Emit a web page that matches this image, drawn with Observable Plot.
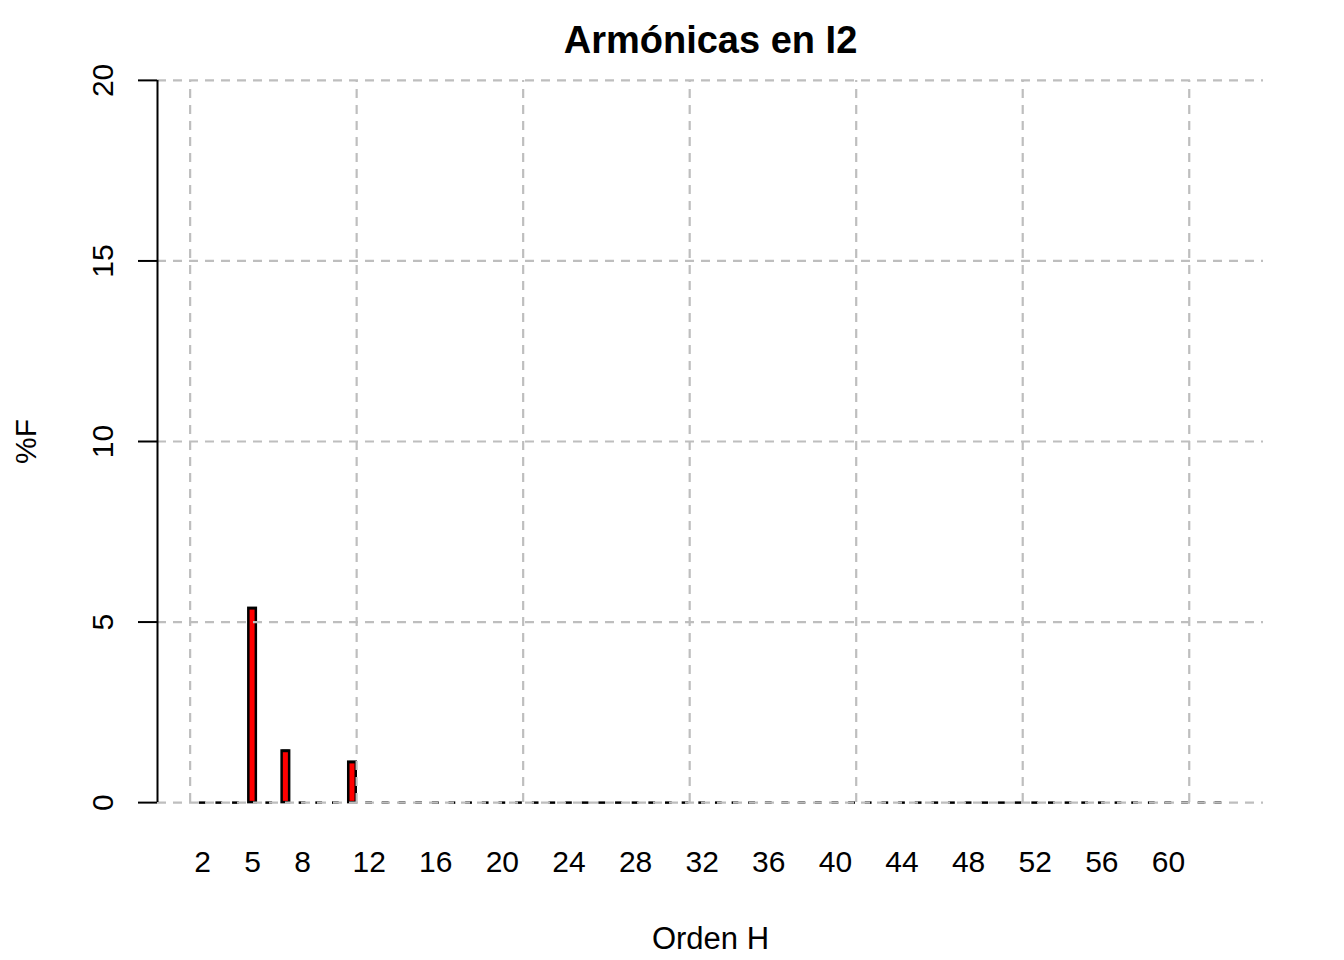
<!DOCTYPE html>
<html><head><meta charset="utf-8">
<script src="https://cdn.jsdelivr.net/npm/d3@7"></script>
<script src="https://cdn.jsdelivr.net/npm/@observablehq/plot@0.6"></script>
<style>body{margin:0;background:#fff} svg{display:block}</style>
</head><body><div id="chart"></div>
<script>
const harmonics = [2,3,4,5,6,7,8,9,10,11,12,13,14,15,16,17,18,19,20,21,22,23,24,25,26,27,28,29,30,31,32,
  33,34,35,36,37,38,39,40,41,42,43,44,45,46,47,48,49,50,51,52,53,54,55,56,57,58,59,60,61,62,63];
const values = [0,0,0,5.38,0,1.43,0,0,0,1.12,0,0,0,0,0,0,0,0,0,0,0,0,0,0,0,0,0,0,0,0,0,
  0,0,0,0,0,0,0,0,0,0,0,0,0,0,0,0,0,0,0,0,0,0,0,0,0,0,0,0,0,0,0];
const xTickLabels = [2,5,8,12,16,20,24,28,32,36,40,44,48,52,56,60];
const yTicks = [0,5,10,15,20];
const yLimits = [0,20];
const title = "Armónicas en I2";
const xLabel = "Orden H";
const yLabel = "%F";

// R barplot geometry: width 0.5, space 1
const barWidth = 0.5, space = 1;
const data = harmonics.map((h, i) => {
  const left = space * barWidth + i * barWidth * (1 + space);
  return {h, v: values[i], left, right: left + barWidth, mid: left + barWidth / 2};
});
const xmin = data[0].left, xmax = data[data.length - 1].right;
const xpad = 0.04 * (xmax - xmin);
const xDomain = [xmin - xpad, xmax + xpad];
const ypad = 0.04 * (yLimits[1] - yLimits[0]);
const yDomain = [yLimits[0] - ypad, yLimits[1] + ypad];
const gridX = d3.ticks(xDomain[0], xDomain[1], 6);
const tickData = data.filter(d => xTickLabels.includes(d.h));

const grid = {stroke: "#bebebe", strokeWidth: 2.2, strokeDasharray: "9,7"};

const chart = Plot.plot({
  width: 1344,
  height: 960,
  marginLeft: 157,
  marginRight: 81,
  marginTop: 51,
  marginBottom: 129,
  style: {fontFamily: "'Liberation Sans', Arial, sans-serif", fontSize: "30px", background: "#fff", color: "#000", overflow: "visible"},
  x: {type: "linear", domain: xDomain, axis: null},
  y: {domain: yDomain},
  marks: [
    Plot.rectY(data.filter(d => d.v > 0), {x1: "left", x2: "right", y1: 0, y2: "v", fill: "red", stroke: "black", strokeWidth: 2.5, insetLeft: 0.4, insetRight: 0.4}),
    Plot.ruleY(data, {y: "v", x1: "left", x2: "right", stroke: "black", strokeWidth: 2.5, insetLeft: 0.8, insetRight: 0.8}),
    Plot.ruleY(yTicks, {y: d => d, ...grid}),
    Plot.ruleX(gridX, {x: d => d, y1: yLimits[0], y2: yLimits[1], ...grid}),
    Plot.ruleX([xDomain[0]], {x: d => d, y1: yTicks[0], y2: yTicks[yTicks.length - 1], stroke: "black", strokeWidth: 2}),
    Plot.axisY({ticks: yTicks, tickSize: 19, tickFormat: () => "", strokeWidth: 2, label: null}),
    Plot.text(yTicks, {y: d => d, text: d => String(d), frameAnchor: "left", rotate: -90, textAnchor: "middle", lineAnchor: "bottom", dx: -45, fontSize: 30}),
    Plot.text([yLabel], {text: d => d, frameAnchor: "left", rotate: -90, textAnchor: "middle", lineAnchor: "bottom", dx: -122, fontSize: 30}),
    Plot.text(tickData, {x: "mid", text: d => String(d.h), frameAnchor: "bottom", lineAnchor: "bottom", dy: 40, fontSize: 30}),
    Plot.text([xLabel], {text: d => d, frameAnchor: "bottom", lineAnchor: "bottom", dy: 117, fontSize: 31}),
    Plot.text([title], {text: d => d, frameAnchor: "top", lineAnchor: "bottom", dy: 1, fontSize: 38, fontWeight: "bold"})
  ]
});
document.getElementById("chart").appendChild(chart);
</script>
</body></html>
